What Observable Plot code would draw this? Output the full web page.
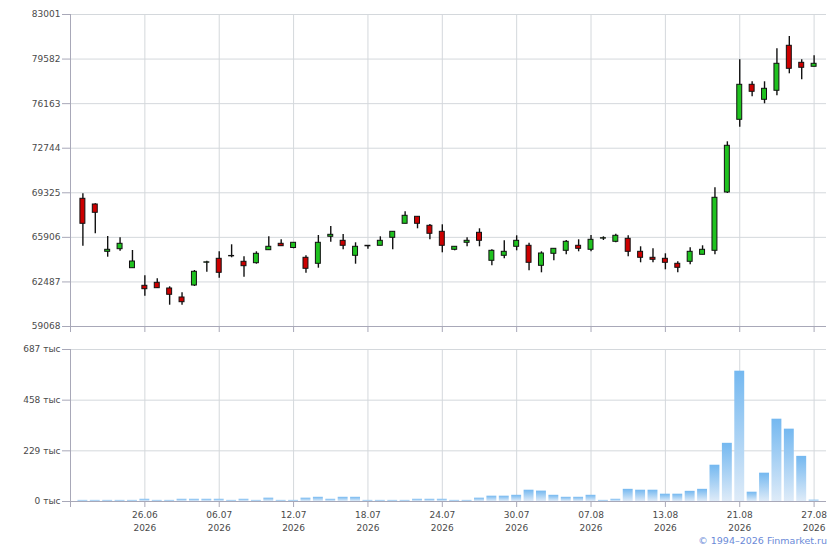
<!DOCTYPE html>
<html><head><meta charset="utf-8">
<script src="https://cdn.jsdelivr.net/npm/d3@7"></script>
<script src="https://cdn.jsdelivr.net/npm/@observablehq/plot@0.6"></script>
<style>
body{margin:0;background:#fff;font-family:"DejaVu Sans",Verdana,sans-serif;}
#wrap{position:relative;width:840px;height:550px;overflow:hidden;}
#price{position:absolute;left:0;top:0;}
#vol{position:absolute;left:0;top:340px;}
#copy{position:absolute;right:13px;top:535px;font-size:9.5px;color:#6a8ad8;font-family:"DejaVu Sans",sans-serif;}
</style></head><body>
<div id="wrap"><div id="price"></div><div id="vol"></div><div id="copy">© 1994–2026 Finmarket.ru</div></div>
<script>
const openP  = [68864,68427,64798,64998,63540,62190,62420,61983,61293,62213,63960,64261,64450,64031,63924,64921,65412,65090,64338,63878,65949,65642,64491,65259,65259,65872,66946,67483,66793,66332,64952,65489,66256,64108,64491,65182,65259,63724,64645,64875,65259,64952,65810,65565,65795,64798,64338,64261,63878,64031,64568,64875,69347,74924,77609,76458,77149,80601,79296,78990];
const highP  = [69248,68480,65972,65872,64898,62957,62727,62113,61653,63364,64077,64798,65335,64415,64798,65949,65719,65489,64491,66049,66739,66125,65489,65280,65949,66332,67867,67483,66892,66869,65182,65872,66563,64952,65642,66026,65458,64798,65028,65665,65719,66049,65949,66148,66026,65182,65028,64645,64031,65105,65259,69708,73236,79527,77839,77839,80370,81314,79527,79834];
const lowP   = [65228,66179,64384,64844,63540,61392,61990,60702,60702,62136,63233,62773,64338,62850,63847,64921,65228,65028,63157,63540,65535,64952,63847,64998,65259,64952,66946,66563,65719,64721,64875,65182,65182,63724,64261,64875,63341,63187,64108,64568,64798,64798,65665,65489,64415,63954,63954,63417,63187,63801,64568,64568,69270,74356,76688,76151,76765,78453,77992,78990];
const closeP = [66946,67790,64952,65412,64054,61929,62006,61500,60932,63264,63990,63187,64480,63694,64645,65182,65228,65489,63494,65489,66102,65259,65182,65220,65642,66332,67560,66946,66179,65259,65182,65642,65642,64875,64798,65642,63954,64668,65028,65565,65028,65719,65840,66026,64798,64338,64185,63954,63571,64798,64952,68941,72930,77609,77072,77302,79220,78836,78913,79220];
const volume = [5,5,5,5,5,10,5,5,10,10,10,10,5,10,5,15,5,5,15,19,10,19,19,5,5,5,5,10,10,10,5,5,15,24,24,28,51,47,28,19,19,28,5,10,55,51,51,33,33,46,55,164,263,589,42,128,372,327,204,6];
const tickIdx = [5,11,17,23,29,35,41,47,53,59];
const tickLabels = ["26.06","06.07","12.07","18.07","24.07","30.07","07.08","13.08","21.08","27.08"];
const tickYear = "2026";
const priceTicks = [59068,62487,65906,69325,72744,76163,79582,83001];
const volTicks = [0,229,458,687];

const candles = openP.map((o,i)=>({i, open:o, high:highP[i], low:lowP[i], close:closeP[i]}));
const up = candles.filter(d=>d.close>=d.open);
const down = candles.filter(d=>d.close<d.open);
const volData = volume.map((v,i)=>({i, v}));
const labelOf = new Map(tickIdx.map((t,k)=>[t, tickLabels[k]+"\n"+tickYear]));

const gridC="#d4d8dc", axisC="#a8a8b8", textC="#4a4a4a";
const xDomain=[-1,60];
const style={fontFamily:"DejaVu Sans, sans-serif", fontSize:"9px", color:textC, background:"white", overflow:"visible"};

const price = Plot.plot({
  width:840, height:340, marginTop:14, marginBottom:14, marginLeft:70, marginRight:14,
  style,
  x:{type:"linear", domain:xDomain},
  y:{domain:[priceTicks[0], priceTicks[priceTicks.length-1]]},
  marks:[
    Plot.gridY(priceTicks,{stroke:gridC, strokeOpacity:1}),
    Plot.gridX(tickIdx,{stroke:gridC, strokeOpacity:1}),
    Plot.axisY(priceTicks,{tickSize:8, tickPadding:2, stroke:axisC, fill:textC, tickFormat:d=>String(d), label:null}),
    Plot.axisX([xDomain[0],...tickIdx],{tickSize:6, stroke:axisC, tickFormat:()=>"", label:null}),
    Plot.ruleY([priceTicks[0]],{stroke:axisC}),
    Plot.ruleX([xDomain[0]],{stroke:axisC}),
    Plot.ruleX(candles,{x:"i", y1:"low", y2:"high", stroke:"#111", strokeWidth:1.4}),
    Plot.rect(up,{x1:d=>d.i-0.2, x2:d=>d.i+0.2, y1:"open", y2:"close", fill:"#1fc21f", stroke:"#111", strokeWidth:1}),
    Plot.rect(down,{x1:d=>d.i-0.2, x2:d=>d.i+0.2, y1:"open", y2:"close", fill:"#cc0000", stroke:"#111", strokeWidth:1})
  ]
});
document.getElementById("price").appendChild(price);

const vol = Plot.plot({
  width:840, height:210, marginTop:9, marginBottom:49, marginLeft:70, marginRight:14,
  style,
  x:{type:"linear", domain:xDomain},
  y:{domain:[0, volTicks[volTicks.length-1]]},
  marks:[
    Plot.gridY(volTicks,{stroke:gridC, strokeOpacity:1}),
    Plot.gridX(tickIdx,{stroke:gridC, strokeOpacity:1}),
    Plot.rectY(volData,{x1:d=>d.i-0.4, x2:d=>d.i+0.4, y:"v", fill:"url(#volGrad)"}),
    Plot.axisY(volTicks,{tickSize:8, tickPadding:2, stroke:axisC, fill:textC, tickFormat:d=>d+" тыс", label:null}),
    Plot.axisX([xDomain[0],...tickIdx],{tickSize:6, tickPadding:1, stroke:axisC, fill:textC, lineHeight:1.45, tickFormat:d=>labelOf.get(d)||"", label:null}),
    Plot.ruleY([0],{stroke:axisC}),
    Plot.ruleX([xDomain[0]],{stroke:axisC})
  ]
});
const ns="http://www.w3.org/2000/svg";
const defs=document.createElementNS(ns,"defs");
defs.innerHTML='<linearGradient id="volGrad" x1="0" y1="0" x2="0" y2="1"><stop offset="0" stop-color="#74b8f0"/><stop offset="1" stop-color="#deebf8"/></linearGradient>';
vol.insertBefore(defs, vol.firstChild);
document.getElementById("vol").appendChild(vol);
</script>
</body></html>
